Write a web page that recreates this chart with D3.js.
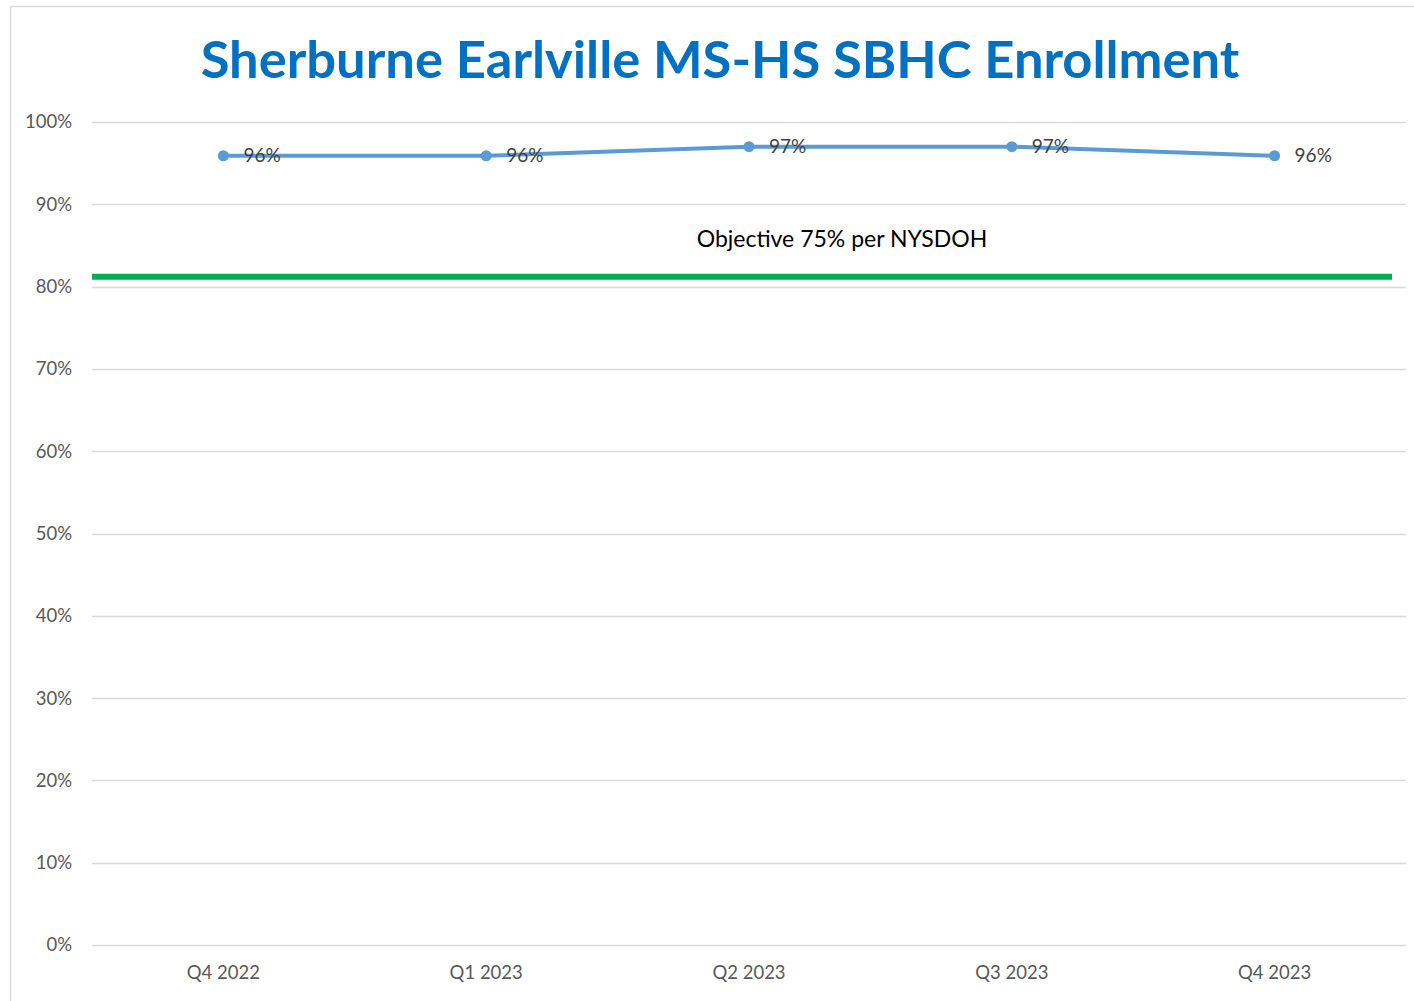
<!DOCTYPE html>
<html>
<head>
<meta charset="utf-8">
<script src="https://cdn.jsdelivr.net/npm/d3@7"></script>
<style>
  html, body { margin: 0; padding: 0; background: #fff; }
  svg { display: block; }
</style>
</head>
<body>
<svg id="chart" width="1414" height="1001"></svg>
<script>
const categories = ["Q4 2022", "Q1 2023", "Q2 2023", "Q3 2023", "Q4 2023"];
const enrollment = [0.959, 0.959, 0.97, 0.97, 0.959];
const dataLabels = ["96%", "96%", "97%", "97%", "96%"];
const yTicks = [0, 0.1, 0.2, 0.3, 0.4, 0.5, 0.6, 0.7, 0.8, 0.9, 1.0];
const objectiveValue = 0.812;
const objectiveLabel = "Objective 75% per NYSDOH";
const title = "Sherburne Earlville MS-HS SBHC Enrollment";

const svg = d3.select("#chart");
const font = "Lato, 'Open Sans', sans-serif";

// outer chart border (top & left visible)
svg.append("line").attr("x1", 10.5).attr("x2", 1414).attr("y1", 6.5).attr("y2", 6.5)
  .attr("stroke", "#d9d9d9").attr("stroke-width", 1.5);
svg.append("line").attr("x1", 10.5).attr("x2", 10.5).attr("y1", 6.5).attr("y2", 1001)
  .attr("stroke", "#d9d9d9").attr("stroke-width", 1.5);

const x = d3.scaleBand().domain(categories).range([92, 1406]);
const y = d3.scaleLinear().domain([0, 1]).range([945, 122]);

// title
svg.append("text").attr("x", 720).attr("y", 78).attr("text-anchor", "middle")
  .attr("font-family", font).attr("font-weight", "bold").attr("font-size", 52.5)
  .attr("fill", "#0070C0").text(title);

// gridlines
svg.append("g").selectAll("line").data(yTicks).join("line")
  .attr("x1", 92).attr("x2", 1406)
  .attr("y1", d => Math.round(y(d)) + 0.5).attr("y2", d => Math.round(y(d)) + 0.5)
  .attr("stroke", "#d9d9d9").attr("stroke-width", 1.3);

// y axis
const yAxis = d3.axisLeft(y).tickValues(yTicks).tickFormat(d3.format(".0%")).tickSize(0).tickPadding(20);
const gy = svg.append("g").attr("transform", "translate(92,0)").call(yAxis);
gy.select(".domain").remove();
gy.selectAll("text").attr("font-family", font).attr("font-size", 18.5).attr("fill", "#595959");

// x axis
const xAxis = d3.axisBottom(x).tickSize(0).tickPadding(21);
const gx = svg.append("g").attr("transform", "translate(0,945)").call(xAxis);
gx.select(".domain").remove();
gx.selectAll("text").attr("font-family", font).attr("font-size", 18.5).attr("fill", "#595959");

// objective line
svg.append("line").attr("x1", 92).attr("x2", 1392)
  .attr("y1", y(objectiveValue)).attr("y2", y(objectiveValue))
  .attr("stroke", "#00B050").attr("stroke-width", 6);
svg.append("text").attr("x", 842).attr("y", y(objectiveValue) - 36)
  .attr("text-anchor", "middle").attr("dominant-baseline", "middle")
  .attr("font-family", font).attr("font-size", 23).attr("fill", "#000").text(objectiveLabel);

// series line
const cx = (d, i) => x(categories[i]) + x.bandwidth() / 2;
const line = d3.line().x((d, i) => cx(d, i)).y(d => y(d));
svg.append("path").datum(enrollment).attr("d", line)
  .attr("fill", "none").attr("stroke", "#5B9BD5").attr("stroke-width", 4)
  .attr("stroke-linejoin", "round");
svg.append("g").selectAll("circle").data(enrollment).join("circle")
  .attr("cx", cx).attr("cy", d => y(d)).attr("r", 5.5).attr("fill", "#5B9BD5");

// data labels
svg.append("g").selectAll("text").data(enrollment).join("text")
  .attr("x", (d, i) => cx(d, i) + 20).attr("y", d => y(d) + 1)
  .attr("dominant-baseline", "middle")
  .attr("font-family", font).attr("font-size", 19).attr("fill", "#404040")
  .text((d, i) => dataLabels[i]);
</script>
</body>
</html>
